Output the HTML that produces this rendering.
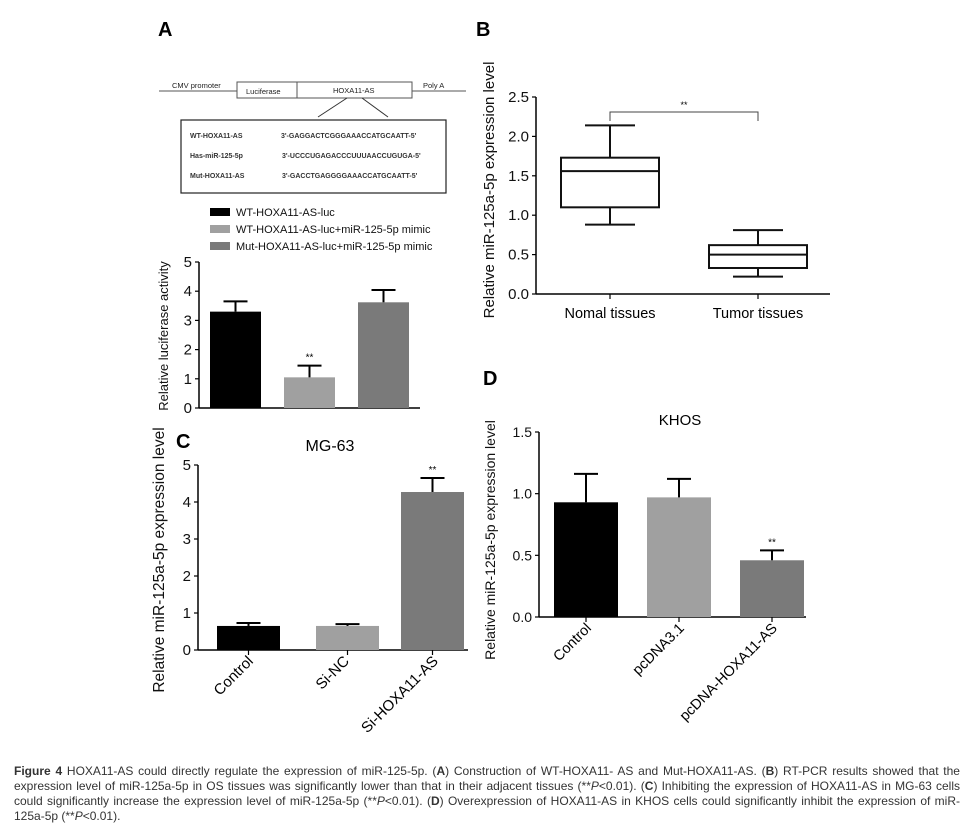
<!DOCTYPE html>
<html><head><meta charset="utf-8">
<style>
body{margin:0;background:#fff;width:972px;height:839px;overflow:hidden;font-family:"Liberation Sans",Arial,sans-serif;}
svg{position:absolute;left:0;top:0}
.cap{position:absolute;left:14px;top:764px;width:946px;font-size:12px;line-height:15px;color:#333;text-align:justify;font-family:"Liberation Sans",Arial,sans-serif;letter-spacing:0;word-spacing:0}
</style></head>
<body>
<svg id="fig" width="972" height="839" viewBox="0 0 972 839" font-family="Liberation Sans, Arial, sans-serif">
  <text x="158" y="36" font-size="20" font-weight="bold">A</text>
  <text x="476" y="36" font-size="20" font-weight="bold">B</text>
  <text x="176" y="448" font-size="20" font-weight="bold">C</text>
  <text x="483" y="385" font-size="20" font-weight="bold">D</text>
  <g font-size="7.5" fill="#222">
    <line x1="159" y1="91" x2="466" y2="91" stroke="#555" stroke-width="1"/>
    <rect x="237" y="82" width="60" height="16" fill="#fff" stroke="#555"/>
    <rect x="297" y="82" width="115" height="16" fill="#fff" stroke="#555"/>
    <text x="172" y="88">CMV promoter</text>
    <text x="246" y="94">Luciferase</text>
    <text x="333" y="93">HOXA11-AS</text>
    <text x="423" y="88">Poly A</text>
    <line x1="347" y1="98" x2="318" y2="117" stroke="#333"/><line x1="362" y1="98" x2="388" y2="117" stroke="#333"/>
    <rect x="181" y="120" width="265" height="73" fill="#fff" stroke="#222" stroke-width="1.2"/>
    <g font-size="7" font-weight="bold" fill="#333">
      <text x="190" y="138">WT-HOXA11-AS</text><text x="281" y="138">3'-GAGGACTCGGGAAACCATGCAATT-5'</text>
      <text x="190" y="158">Has-miR-125-5p</text><text x="282" y="158">3'-UCCCUGAGACCCUUUAACCUGUGA-5'</text>
      <text x="190" y="178">Mut-HOXA11-AS</text><text x="282" y="178">3'-GACCTGAGGGGAAACCATGCAATT-5'</text>
    </g>
  </g>
  <g font-size="11" fill="#111">
    <rect x="210" y="208" width="20" height="8" fill="#000"/><text x="236" y="216">WT-HOXA11-AS-luc</text>
    <rect x="210" y="225" width="20" height="8" fill="#a0a0a0"/><text x="236" y="233">WT-HOXA11-AS-luc+miR-125-5p mimic</text>
    <rect x="210" y="242" width="20" height="8" fill="#7a7a7a"/><text x="236" y="250">Mut-HOXA11-AS-luc+miR-125-5p mimic</text>
  </g>
  <g id="chartA"></g>
  <g id="chartB"></g>
  <g id="chartC"></g>
  <g id="chartD"></g>
</svg>
<div class="cap"><b>Figure 4</b> HOXA11-AS could directly regulate the expression of miR-125-5p. (<b>A</b>) Construction of WT-HOXA11- AS and Mut-HOXA11-AS. (<b>B</b>) RT-PCR results showed that the expression level of miR-125a-5p in OS tissues was significantly lower than that in their adjacent tissues (**<i>P</i>&lt;0.01). (<b>C</b>) Inhibiting the expression of HOXA11-AS in MG-63 cells could significantly increase the expression level of miR-125a-5p (**<i>P</i>&lt;0.01). (<b>D</b>) Overexpression of HOXA11-AS in KHOS cells could significantly inhibit the expression of miR-125a-5p (**<i>P</i>&lt;0.01).</div>
<script>
const NS="http://www.w3.org/2000/svg";
// Panel A
const aValues=[3.3,1.05,3.62];
const aErrors=[0.35,0.4,0.42];
const aTicks=["0","1","2","3","4","5"];
// Panel B
const bCategories=["Nomal tissues","Tumor tissues"];
const bWhiskerLow=[0.88,0.22];
const bQ1=[1.1,0.33];
const bMedian=[1.56,0.5];
const bQ3=[1.73,0.62];
const bWhiskerHigh=[2.14,0.81];
const bTicks=["0.0","0.5","1.0","1.5","2.0","2.5"];
// Panel C
const cCategories=["Control","Si-NC","Si-HOXA11-AS"];
const cValues=[0.65,0.65,4.27];
const cErrors=[0.08,0.05,0.38];
const cTicks=["0","1","2","3","4","5"];
// Panel D
const dCategories=["Control","pcDNA3.1","pcDNA-HOXA11-AS"];
const dValues=[0.93,0.97,0.46];
const dErrors=[0.23,0.15,0.08];
const dTicks=["0.0","0.5","1.0","1.5"];
const colors=["#000","#a0a0a0","#7a7a7a"];

function mk(parent,tag,attrs,text){const e=document.createElementNS(NS,tag);for(const k in attrs)e.setAttribute(k,attrs[k]);if(text!==undefined)e.textContent=text;parent.appendChild(e);return e;}

function axes(g,o){
  const y=v=>o.y0-(v/o.max)*(o.y0-o.yTop);
  let e=mk(g,"line",{x1:o.x0,y1:o.yTop,x2:o.x0,y2:o.y0,stroke:"#000","stroke-width":1.5});
  
  
  e=mk(g,"line",{x1:o.x0,y1:o.y0,x2:o.xEnd,y2:o.y0,stroke:"#000","stroke-width":1.5});
  
  
  o.ticks.forEach((t,i)=>{
    const v=o.max*i/(o.ticks.length-1),yy=y(v);
    mk(g,"line",{x1:o.x0-4,y1:yy,x2:o.x0,y2:yy,stroke:"#000","stroke-width":1.2});
    const tx=mk(g,"text",{x:o.x0-7,y:yy+5,"font-size":o.fs,"text-anchor":"end",fill:"#111"},t);
    
    
  });
  const yl=mk(g,"text",{transform:`translate(${o.ylx},${o.yly}) rotate(-90)`,"font-size":o.yfs,"text-anchor":"middle",fill:"#111"},o.ytitle);
  
  
  return y;
}
function bars(g,o,vals,errs,left,w){
  const y=axes(g,o);
  vals.forEach((v,i)=>{
    const x=left[i],cx=x+w/2;
    const r=mk(g,"rect",{x:x,y:y(v),width:w,height:o.y0-y(v),fill:colors[i]});
    
    
    const ey=y(v+errs[i]);
    mk(g,"line",{x1:cx,y1:y(v),x2:cx,y2:ey,stroke:"#000","stroke-width":2});
    mk(g,"line",{x1:cx-12,y1:ey,x2:cx+12,y2:ey,stroke:"#000","stroke-width":2});
    if(o.xticks) mk(g,"line",{x1:cx,y1:o.y0,x2:cx,y2:o.y0+5,stroke:"#000","stroke-width":1.2});
    if(o.star===i){const s=mk(g,"text",{x:cx,y:ey-5,"font-size":10,"text-anchor":"middle"},"**");}
  });
  return y;
}
// A
bars(document.getElementById("chartA"),{x0:199,y0:408,yTop:262,xEnd:420,max:5,ticks:aTicks,fs:15,ylx:168,yly:336,yfs:13,ytitle:"Relative luciferase activity",star:1,xticks:false},aValues,aErrors,[210,284,358],51);
// C
const gc=document.getElementById("chartC");
bars(gc,{x0:198,y0:650,yTop:465,xEnd:468,max:5,ticks:cTicks,fs:15,ylx:164,yly:560,yfs:15.5,ytitle:"Relative miR-125a-5p expression level",star:2,xticks:true},cValues,cErrors,[217,316,401],63);
cCategories.forEach((c,i)=>{const cx=[248,344,433][i];const t=mk(gc,"text",{transform:`translate(${cx+6},${662}) rotate(-45)`,"font-size":15,"text-anchor":"end"},c);});
mk(gc,"text",{x:330,y:451,"font-size":16,"text-anchor":"middle"},"MG-63");
// D
const gd=document.getElementById("chartD");
bars(gd,{x0:539,y0:617,yTop:432,xEnd:806,max:1.5,ticks:dTicks,fs:14,ylx:495,yly:540,yfs:14,ytitle:"Relative miR-125a-5p expression level",star:2,xticks:true},dValues,dErrors,[554,647,740],64);
dCategories.forEach((c,i)=>{const cx=[586,679,772][i];const t=mk(gd,"text",{transform:`translate(${cx+6},${629}) rotate(-45)`,"font-size":14.5,"text-anchor":"end"},c);});
mk(gd,"text",{x:680,y:425,"font-size":15,"text-anchor":"middle"},"KHOS");
// B
const gb=document.getElementById("chartB");
const yb=axes(gb,{x0:536,y0:294,yTop:97,xEnd:830,max:2.5,ticks:bTicks,fs:15,ylx:494,yly:190,yfs:15,ytitle:"Relative miR-125a-5p expression level"});
const bCenters=[610,758];
bCategories.forEach((c,i)=>{
  const cx=bCenters[i],hw=49;
  const r=mk(gb,"rect",{x:cx-hw,y:yb(bQ3[i]),width:2*hw,height:yb(bQ1[i])-yb(bQ3[i]),fill:"#fff",stroke:"#111","stroke-width":2});
  
  
  mk(gb,"line",{x1:cx-hw,y1:yb(bMedian[i]),x2:cx+hw,y2:yb(bMedian[i]),stroke:"#111","stroke-width":2});
  mk(gb,"line",{x1:cx,y1:yb(bQ3[i]),x2:cx,y2:yb(bWhiskerHigh[i]),stroke:"#111","stroke-width":2});
  mk(gb,"line",{x1:cx,y1:yb(bQ1[i]),x2:cx,y2:yb(bWhiskerLow[i]),stroke:"#111","stroke-width":2});
  mk(gb,"line",{x1:cx-25,y1:yb(bWhiskerHigh[i]),x2:cx+25,y2:yb(bWhiskerHigh[i]),stroke:"#111","stroke-width":2});
  mk(gb,"line",{x1:cx-25,y1:yb(bWhiskerLow[i]),x2:cx+25,y2:yb(bWhiskerLow[i]),stroke:"#111","stroke-width":2});
  mk(gb,"line",{x1:cx,y1:294,x2:cx,y2:299,stroke:"#000","stroke-width":1.2});
  const t=mk(gb,"text",{x:cx,y:318,"font-size":14.5,"text-anchor":"middle"},c);
  
  
});
mk(gb,"path",{d:"M610,121 V112 H758 V121",fill:"none",stroke:"#444","stroke-width":1});
mk(gb,"text",{x:684,y:108,"font-size":9,"text-anchor":"middle"},"**");
</script>
</body></html>
